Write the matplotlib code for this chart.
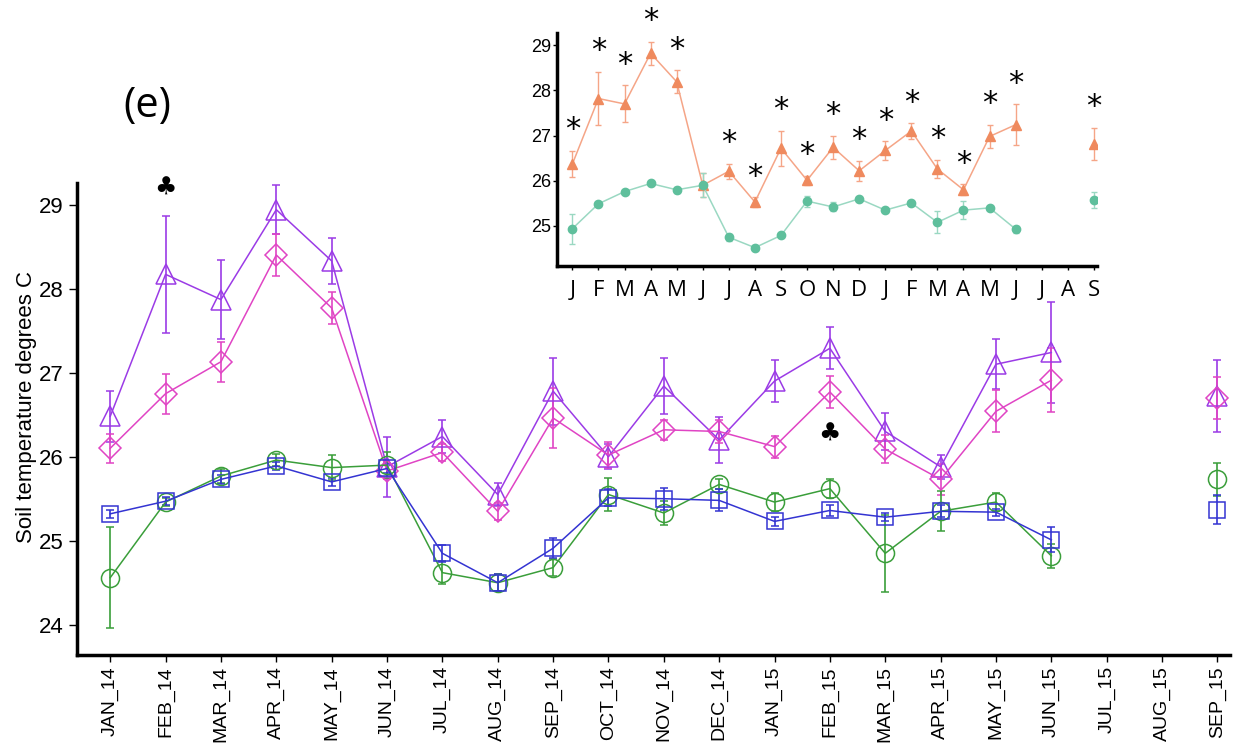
import numpy as np
import matplotlib
matplotlib.use("Agg")
import matplotlib.pyplot as plt

months = ["JAN_14", "FEB_14", "MAR_14", "APR_14", "MAY_14", "JUN_14", "JUL_14",
          "AUG_14", "SEP_14", "OCT_14", "NOV_14", "DEC_14", "JAN_15", "FEB_15",
          "MAR_15", "APR_15", "MAY_15", "JUN_15", "JUL_15", "AUG_15", "SEP_15"]
inset_months = ["J", "F", "M", "A", "M", "J", "J", "A", "S", "O", "N", "D",
                "J", "F", "M", "A", "M", "J", "J", "A", "S"]

nan = np.nan
# main panel: four treatments (mean and error)
tri = [26.48, 28.17, 27.87, 28.94, 28.33, 25.88, 26.24, 25.55, 26.78, 26.00, 26.84,
       26.20, 26.90, 27.29, 26.30, 25.88, 27.10, 27.24, nan, nan, 26.72]
tri_err = [0.30, 0.70, 0.47, 0.29, 0.27, 0.36, 0.20, 0.14, 0.40, 0.15, 0.33,
           0.27, 0.25, 0.25, 0.22, 0.14, 0.30, 0.60, nan, nan, 0.43]
dia = [26.10, 26.75, 27.13, 28.40, 27.77, 25.83, 26.05, 25.35, 26.46, 26.02, 26.32,
       26.30, 26.12, 26.77, 26.09, 25.73, 26.54, 26.91, nan, nan, 26.70]
dia_err = [0.17, 0.24, 0.24, 0.25, 0.19, 0.10, 0.10, 0.10, 0.36, 0.15, 0.12,
           0.14, 0.13, 0.19, 0.17, 0.18, 0.25, 0.38, nan, nan, 0.25]
circ = [24.56, 25.46, 25.77, 25.96, 25.87, 25.90, 24.62, 24.50, 24.68, 25.55, 25.33,
        25.67, 25.46, 25.62, 24.85, 25.35, 25.46, 24.82, nan, nan, 25.73]
circ_err = [0.60, 0.05, 0.08, 0.07, 0.15, 0.15, 0.14, 0.10, 0.10, 0.20, 0.14,
            0.06, 0.11, 0.11, 0.46, 0.24, 0.11, 0.14, nan, nan, 0.20]
sq = [25.32, 25.47, 25.73, 25.89, 25.70, 25.86, 24.85, 24.50, 24.91, 25.51, 25.50,
      25.48, 25.23, 25.36, 25.28, 25.35, 25.34, 25.01, nan, nan, 25.37]
sq_err = [0.05, 0.05, 0.05, 0.05, 0.05, 0.05, 0.10, 0.10, 0.12, 0.10, 0.13,
          0.13, 0.05, 0.06, 0.05, 0.07, 0.04, 0.15, nan, nan, 0.17]

# inset: two groups
ins_hi = [26.37, 27.82, 27.70, 28.82, 28.19, 25.90, 26.21, 25.53, 26.72, 26.01, 26.74,
          26.22, 26.67, 27.10, 26.26, 25.80, 26.98, 27.24, nan, nan, 26.82]
ins_hi_err = [0.29, 0.59, 0.41, 0.26, 0.25, 0.27, 0.17, 0.10, 0.39, 0.10, 0.25,
              0.22, 0.20, 0.17, 0.21, 0.12, 0.25, 0.45, nan, nan, 0.35]
ins_lo = [24.94, 25.49, 25.76, 25.94, 25.80, 25.90, 24.75, 24.52, 24.79, 25.55, 25.42,
          25.60, 25.35, 25.51, 25.08, 25.35, 25.40, 24.93, nan, nan, 25.57]
ins_lo_err = [0.33, 0.03, 0.03, 0.03, 0.07, 0.27, 0.08, 0.06, 0.04, 0.12, 0.10,
              0.04, 0.04, 0.04, 0.24, 0.20, 0.04, 0.08, nan, nan, 0.18]
signif = [1, 1, 1, 1, 1, 0, 1, 1, 1, 1, 1, 1, 1, 1, 1, 1, 1, 1, 0, 0, 1]

x = np.arange(len(months))

fig = plt.figure(figsize=(12.38, 7.46), dpi=100)
ax = fig.add_axes([0.0622, 0.122, 0.931, 0.633])

series = [
    (tri, tri_err, "^", "#9b3be6", 14),
    (dia, dia_err, "D", "#e044c4", 11),
    (circ, circ_err, "o", "#3a9e3a", 13),
    (sq, sq_err, "s", "#3434d2", 12),
]
for vals, err, mk, col, ms in series:
    ax.errorbar(x, vals, yerr=err, color=col, marker=mk, markersize=ms,
                markerfacecolor="none", markeredgecolor=col, markeredgewidth=1.1,
                linewidth=1.1, elinewidth=1.2, capsize=3, capthick=1.2)

ax.set_xlim(-0.6, 20.22)
ax.set_ylim(23.64, 29.26)
ax.set_yticks([24, 25, 26, 27, 28, 29])
ax.set_xticks(x)
ax.set_xticklabels(months, rotation=90, fontsize=14, family="Liberation Sans")
ax.tick_params(axis="y", labelsize=16, length=6, width=1)
for lab in ax.get_yticklabels():
    lab.set_family("Liberation Sans")
ax.tick_params(axis="x", length=5, width=1, pad=3)
ax.spines["top"].set_visible(False)
ax.spines["right"].set_visible(False)
ax.spines["left"].set_linewidth(2.5)
ax.spines["bottom"].set_linewidth(2.5)
ax.set_ylabel("Soil temperature degrees C", fontsize=16, family="Liberation Sans")
ax.yaxis.set_label_coords(-0.035, 0.525)

ax.text(1, 29.2, "\u2663", ha="center", va="center", fontsize=18, clip_on=False)
ax.text(13, 26.27, "\u2663", ha="center", va="center", fontsize=18)
fig.text(0.119, 0.858, "(e)", fontsize=30, family="Open Sans", ha="center", va="center")

# inset
ia = fig.add_axes([0.4497, 0.6438, 0.4364, 0.312])
ia.errorbar(x, ins_hi, yerr=ins_hi_err, color="#f5a587", marker="^", markersize=7,
            markerfacecolor="#ef8a5e", markeredgecolor="#ef8a5e", linewidth=1.1,
            elinewidth=1, capsize=2, capthick=1)
ia.errorbar(x, ins_lo, yerr=ins_lo_err, color="#9ad8c2", marker="o", markersize=6,
            markerfacecolor="#5fbf9c", markeredgecolor="#5fbf9c", linewidth=1.1,
            elinewidth=1, capsize=2, capthick=1)
for i in range(len(x)):
    if signif[i]:
        ia.text(x[i], ins_hi[i] + ins_hi_err[i] + 0.47, "*", ha="center",
                va="center", fontsize=22, clip_on=False)

ia.set_xlim(-0.6, 20.12)
ia.set_ylim(24.12, 29.27)
ia.set_yticks([25, 26, 27, 28, 29])
ia.set_xticks(x)
ia.set_xticklabels(inset_months, fontsize=16, family="Open Sans")
ia.tick_params(axis="y", labelsize=13, length=3, width=1, pad=1)
ia.tick_params(axis="x", length=3, width=1, pad=7)
for lab in ia.get_yticklabels():
    lab.set_family("Liberation Sans")
ia.spines["top"].set_visible(False)
ia.spines["right"].set_visible(False)
ia.spines["left"].set_linewidth(2.5)
ia.spines["bottom"].set_linewidth(2.5)
ia.patch.set_alpha(0)

fig.savefig("out.png", dpi=100)
